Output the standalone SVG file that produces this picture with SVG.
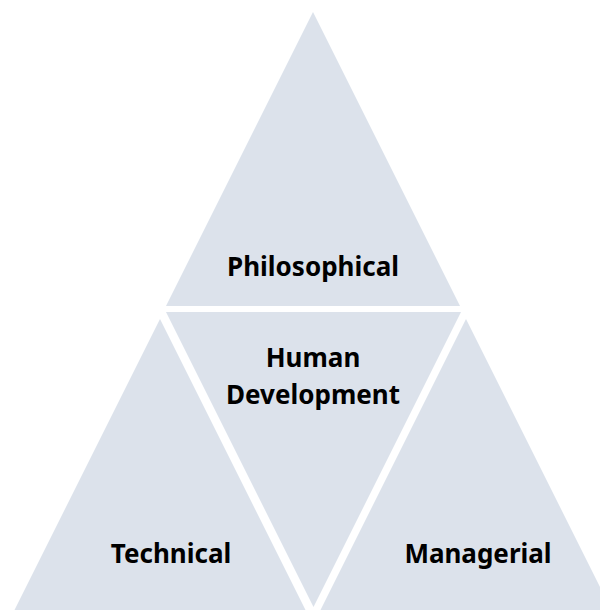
<svg xmlns="http://www.w3.org/2000/svg" width="600" height="610" viewBox="0 0 600 610">
<style>
.tri{fill:#dce2eb;stroke:none}
.lbl{font-family:"Noto Sans","Open Sans","DejaVu Sans",sans-serif;font-weight:bold;font-size:26px;fill:#000;text-anchor:middle}
</style>
<rect width="600" height="610" fill="#ffffff"/>
<g id="philosophical">
<polygon class="tri" points="313,12 166,306 460,306"/>
<text class="lbl" x="313" y="276">Philosophical</text>
</g>
<g id="human-development">
<polygon class="tri" points="166,312 461,312 313.5,607"/>
<text class="lbl" x="313" y="367">Human</text>
<text class="lbl" x="313" y="404">Development</text>
</g>
<g id="technical">
<polygon class="tri" points="160,319 13,613 307,613"/>
<text class="lbl" x="171" y="563">Technical</text>
</g>
<g id="managerial">
<polygon class="tri" points="466,319 319,613 613,613"/>
<text class="lbl" x="478" y="563">Managerial</text>
</g>
<g id="connectors"></g>
</svg>
